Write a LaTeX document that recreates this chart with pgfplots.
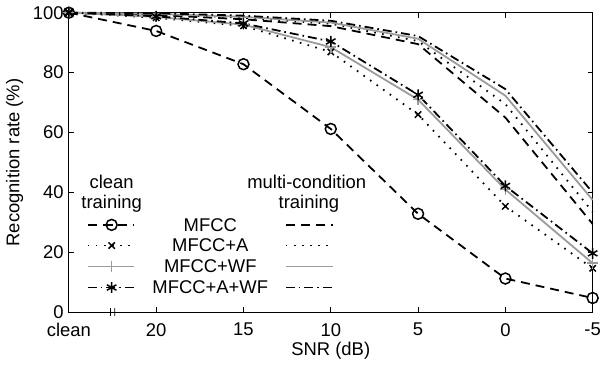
\documentclass[border=0pt]{standalone}
\usepackage{fontspec}
\setmainfont{Liberation Sans}
\usepackage{pgfplots}
\pgfplotsset{compat=1.18}
\definecolor{lgray}{RGB}{155,155,155}
\begin{document}
\fontsize{18.5}{22}\selectfont
\begin{tikzpicture}[
  dsh/.style={dash pattern=on 9pt off 6pt},
  dtt/.style={dash pattern=on 1.6pt off 6.5pt},
  dd/.style={dash pattern=on 9pt off 4pt on 1.6pt off 4pt},
]
\begin{axis}[
  scale only axis,
  width=526pt, height=301pt,
  xmin=0, xmax=6, ymin=0, ymax=100,
  xtick={0,1,2,3,4,5,6}, xticklabels={clean,20,15,10,5,0,-5},
  ytick={0,20,40,60,80,100}, yticklabels={0,20,40,60,80,100},
  tick align=inside, major tick length=5pt,
  tick style={black, line width=0.8pt},
  axis line style={line width=1.2pt},
  ticklabel style={font=\fontsize{18.5}{22}\selectfont},
  xticklabel style={yshift=-4.5pt},
  yticklabel style={xshift=1pt},
  xlabel={SNR (dB)}, ylabel={Recognition rate (\%)},
  label style={font=\fontsize{18.5}{22}\selectfont},
  xlabel style={yshift=7pt},
  ylabel style={yshift=-3pt},
  clip=false,
  every axis plot/.append style={line width=1.8pt},
]
% multi-condition training
\addplot[black, dsh, mark=none] coordinates {(0,100)(1,99.2)(2,97.8)(3,95.5)(4,89.5)(5,65)(6,29.5)};
\addplot[black, dtt, mark=none] coordinates {(0,100)(1,99.5)(2,98.3)(3,96.3)(4,90.5)(5,69.5)(6,33.5)};
\addplot[lgray, solid, mark=none] coordinates {(0,100)(1,99.6)(2,98.6)(3,96.7)(4,91.3)(5,72.3)(6,37.5)};
\addplot[black, dd, mark=none] coordinates {(0,100)(1,99.8)(2,99)(3,97.3)(4,92.2)(5,74.5)(6,40)};
% clean training
\addplot[black, dsh, mark=o, mark size=5.5pt, mark options={solid, line width=1.5pt}] coordinates {(0,100)(1,93.9)(2,82.8)(3,61.2)(4,32.9)(5,11.3)(6,4.8)};
\addplot[black, dtt, mark=x, mark size=4.5pt, mark options={solid, line width=1.5pt}] coordinates {(0,100)(1,98.3)(2,95.6)(3,86.9)(4,66)(5,35.4)(6,14.7)};
\addplot[lgray, solid, mark=+, mark size=5.5pt, mark options={solid, line width=1.5pt}] coordinates {(0,100)(1,98.6)(2,96)(3,88.5)(4,71)(5,41)(6,16.4)};
\addplot[black, dd, mark=asterisk, mark size=5.5pt, mark options={solid, line width=1.5pt}] coordinates {(0,100)(1,98.8)(2,96.4)(3,90.4)(4,72.6)(5,42.2)(6,19.7)};
% legend samples (clean training, left)
\addplot[black, dsh, mark=o, mark size=5.5pt, mark indices={2}, mark options={solid, line width=1.5pt}] coordinates {(0.217,29.2)(0.49,29.2)(0.741,29.2)};
\addplot[black, dtt, mark=x, mark size=4.5pt, mark indices={2}, mark options={solid, line width=1.5pt}] coordinates {(0.217,22.3)(0.49,22.3)(0.741,22.3)};
\addplot[lgray, solid, mark=+, mark size=5.5pt, mark indices={2}, mark options={solid, line width=1.5pt}] coordinates {(0.217,15.3)(0.49,15.3)(0.741,15.3)};
\addplot[black, dd, mark=asterisk, mark size=5.5pt, mark indices={2}, mark options={solid, line width=1.5pt}] coordinates {(0.217,8.3)(0.49,8.3)(0.741,8.3)};
% legend samples (multi-condition training, right)
\addplot[black, dsh, mark=none] coordinates {(2.486,29.2)(3.02,29.2)};
\addplot[black, dtt, mark=none] coordinates {(2.486,22.3)(3.02,22.3)};
\addplot[lgray, solid, mark=none] coordinates {(2.486,15.3)(3.02,15.3)};
\addplot[black, dd, mark=none] coordinates {(2.486,8.3)(3.02,8.3)};
% legend texts
\node at (axis cs:0.49,43.5) {clean};
\node at (axis cs:0.49,36.2) {training};
\node at (axis cs:2.725,43.5) {multi-condition};
\node at (axis cs:2.75,36.2) {training};
\node at (axis cs:1.62,29.2) {MFCC};
\node at (axis cs:1.62,22.3) {MFCC+A};
\node at (axis cs:1.62,15.3) {MFCC+WF};
\node at (axis cs:1.62,8.3) {MFCC+A+WF};
% axis break mark
\draw[line width=0.8pt] (axis cs:0.475,-1.2) .. controls (axis cs:0.465,-0.2) and (axis cs:0.485,0.4) .. (axis cs:0.475,1.4);
\draw[line width=0.8pt] (axis cs:0.525,-1.2) .. controls (axis cs:0.515,-0.2) and (axis cs:0.535,0.4) .. (axis cs:0.525,1.4);
\end{axis}
\end{tikzpicture}
\end{document}
